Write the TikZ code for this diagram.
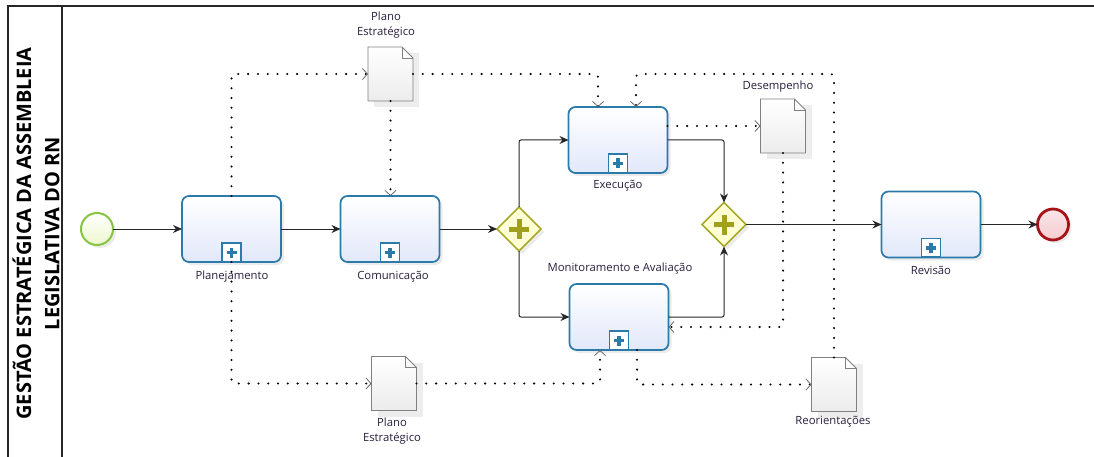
\documentclass[tikz,border=0pt]{standalone}
\usepackage{fontspec}
\setmainfont{Open Sans}
\usetikzlibrary{arrows.meta,shadows,shapes.geometric,calc}
\definecolor{taskblue}{RGB}{42,122,170}
\definecolor{taskfill}{RGB}{226,232,250}
\definecolor{gatestroke}{RGB}{168,168,40}
\definecolor{gatefill}{RGB}{255,255,212}
\definecolor{gateplus}{RGB}{160,160,30}
\definecolor{startstroke}{RGB}{135,196,64}
\definecolor{startfill}{RGB}{236,248,206}
\definecolor{endstroke}{RGB}{165,18,24}
\definecolor{endfill}{RGB}{244,204,208}
\definecolor{docgray}{RGB}{128,128,128}
\definecolor{docfill}{RGB}{236,236,236}
\definecolor{assocgray}{RGB}{105,105,105}
\definecolor{labeltext}{RGB}{40,30,60}
\newcommand{\subproc}[1]{%
  \draw[taskblue,line width=1.4pt,fill=white] ([xshift=-9.5pt,yshift=0.6pt]#1.south) rectangle ([xshift=9.5pt,yshift=19pt]#1.south);
  \draw[taskblue,line width=3.2pt] ([yshift=4.5pt]#1.south) -- ([yshift=14.5pt]#1.south)
    ([xshift=-5pt,yshift=9.5pt]#1.south) -- ([xshift=5pt,yshift=9.5pt]#1.south);}
\newcommand{\gateplus}[1]{%
  \draw[gateplus,line width=5pt] ([yshift=-10pt]#1.center) -- ([yshift=10pt]#1.center)
    ([xshift=-10pt]#1.center) -- ([xshift=10pt]#1.center);}
\newcommand{\docshape}[1]{%
  \fill[black,opacity=0.07] ([xshift=6pt,yshift=-6pt]#1.south west) rectangle ([xshift=6pt,yshift=-6pt]#1.north east);
  \draw[docgray,line width=0.9pt,top color=white,bottom color=docfill] (#1.north west) -- ([xshift=-11pt]#1.north east) -- ([yshift=-11pt]#1.north east) -- (#1.south east) -- (#1.south west) -- cycle;
  \draw[docgray,line width=0.7pt] ([xshift=-11pt]#1.north east) |- ([yshift=-11pt]#1.north east);}
\begin{document}
\begin{tikzpicture}[x=1pt,y=-1pt,
  task/.style={rectangle,rounded corners=7pt,draw=taskblue,line width=1.7pt,top color=white,bottom color=taskfill,
    minimum width=99pt,minimum height=66pt,inner sep=0pt,outer sep=0pt,
    drop shadow={opacity=0.16,shadow xshift=3pt,shadow yshift=-3pt}},
  gate/.style={diamond,aspect=1,draw=gatestroke,line width=1.7pt,fill=gatefill,minimum width=44pt,minimum height=44pt,
    inner sep=0pt,outer sep=0pt,drop shadow={opacity=0.16,shadow xshift=3pt,shadow yshift=-3pt}},
  startev/.style={circle,draw=startstroke,line width=2pt,top color=white,bottom color=startfill,minimum size=32pt,inner sep=0pt,outer sep=0pt,
    drop shadow={opacity=0.16,shadow xshift=3pt,shadow yshift=-3pt}},
  endev/.style={circle,draw=endstroke,line width=2.8pt,top color=endfill!50,bottom color=endfill,minimum size=31pt,inner sep=0pt,outer sep=0pt,
    drop shadow={opacity=0.16,shadow xshift=3pt,shadow yshift=-3pt}},
  docnode/.style={rectangle,draw=none,minimum width=45pt,minimum height=54pt,inner sep=0pt,outer sep=0pt},
  lbl/.style={font=\fontsize{11.3}{15}\selectfont,text=labeltext,inner sep=0pt,align=center},
  seq/.style={draw=black!85,line width=1pt,rounded corners=2pt,-{Stealth[length=9pt,width=8pt]}},
  assoc/.style={draw=black,line width=2.3pt,line cap=round,dash pattern=on 0pt off 9.8pt,rounded corners=3pt,
    -{Straight Barb[length=5pt,width=11pt,line width=0.8pt,line cap=butt,color=assocgray]}}
]
\useasboundingbox (0,0) rectangle (1094,457);
% pool frame
\draw[black!85,line width=1.3pt] (8,457) -- (8,6) -- (1094,6);
\draw[black!85,line width=1.3pt] (62,6) -- (62,457);
\node[rotate=90,align=center,font=\bfseries\fontsize{20}{28.3}\selectfont] (title) at (36,233.5)
  {GESTÃO ESTRATÉGICA DA ASSEMBLEIA\\LEGISLATIVA DO RN};
% flow objects
\node[startev] (start) at (97,229) {};
\node[task] (plan) at (231.5,229) {};
\node[task] (com) at (390,229) {};
\node[gate] (g1) at (519,229) {};
\node[task] (exec) at (618,140) {};
\node[task] (mon) at (619,317) {};
\node[gate] (g2) at (724,224.5) {};
\node[task] (rev) at (931,224.5) {};
\node[endev] (end) at (1053,224.5) {};
\foreach \t in {plan,com,exec,mon,rev} {\subproc{\t}}
\gateplus{g1}
\gateplus{g2}
% data objects
\node[docnode] (pe1) at (390.5,74) {};
\node[docnode] (des) at (783,126) {};
\node[docnode] (pe2) at (394,383.5) {};
\node[docnode] (reo) at (834,384.5) {};
\foreach \d in {pe1,des,pe2,reo} {\docshape{\d}}
% labels
\node[lbl] (lplan) at (232,277) {Planejamento};
\node[lbl] (lcom) at (393,277) {Comunicação};
\node[lbl] (lexec) at (618,186) {Execução};
\node[lbl] (lmon) at (620,269) {Monitoramento e Avaliação};
\node[lbl] (lrev) at (931,270) {Revisão};
\node[lbl] (lpe1) at (386,25.5) {Plano\\Estratégico};
\node[lbl] (ldes) at (778,87) {Desempenho};
\node[lbl] (lpe2) at (392,431.5) {Plano\\Estratégico};
\node[lbl] (lreo) at (833,422) {Reorientações};
% sequence flows
\draw[seq] (start) -- (plan);
\draw[seq] (plan) -- (com);
\draw[seq] (com.east) -- (g1.west);
\draw[seq] (g1.north) |- (exec.west);
\draw[seq] (g1.south) |- (mon.west);
\draw[seq] (exec.east) -| (g2.north);
\draw[seq] (mon.east) -| (g2.south);
\draw[seq] (g2.east) -- (rev.west);
\draw[seq] (rev.east) -- (end.west);
% associations
\coordinate (c6) at (636,74);
\draw[assoc] (plan.north) |- (pe1.west);
\draw[assoc] (pe1.east) -| ([xshift=-20pt]exec.north);
\draw[assoc] (pe1.south) -- (pe1.south |- com.north);
\draw[assoc] (exec.east |- des.west) -- (des.west);
\draw[assoc] (des.south) |- ([yshift=-10pt]mon.east);
\draw[assoc] (reo.north) -- (reo.north |- c6) -- (c6) -- ([xshift=18pt]exec.north);
\draw[assoc] (plan.south) |- (pe2.west);
\draw[assoc] (pe2.east) -| ([xshift=-19pt]mon.south);
\draw[assoc] ([xshift=18pt]mon.south) |- (reo.west);
\end{tikzpicture}
\end{document}
